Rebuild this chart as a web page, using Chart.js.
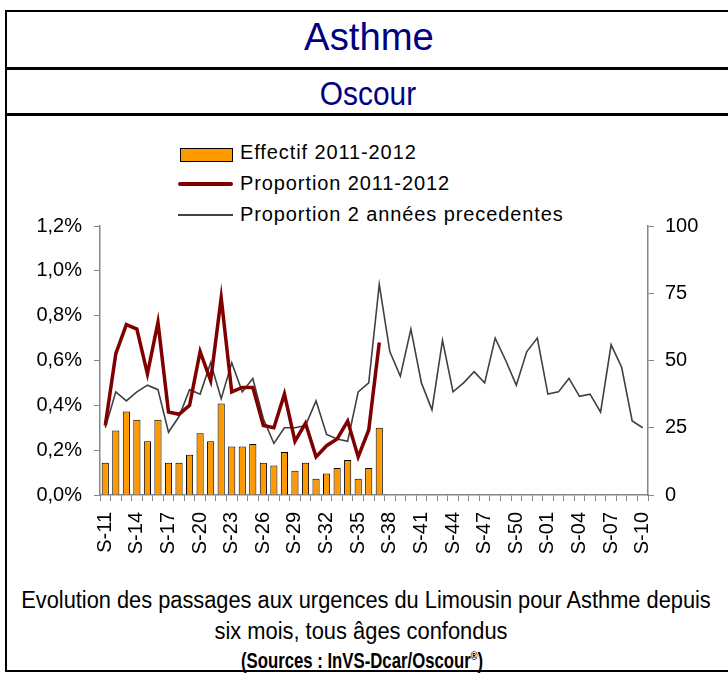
<!DOCTYPE html>
<html>
<head>
<meta charset="utf-8">
<script src="https://cdn.jsdelivr.net/npm/chart.js@4.4.1/dist/chart.umd.min.js"></script>
<style>
  body { margin: 0; background: #fff; width: 728px; height: 675px; overflow: hidden; position: relative; }
  .box { position: absolute; left: 5px; top: 10px; width: 730px; height: 662px; border: 2px solid #000; box-sizing: border-box; }
  .sep { position: absolute; left: 5px; width: 730px; height: 0; border-top: 3px solid #000; }
  .txt { position: absolute; white-space: nowrap; line-height: 1; font-family: "Liberation Sans", Arial, sans-serif; transform-origin: 0 0; }
  .legend { position: absolute; left: 178px; top: 139px; font-family: "Liberation Sans", Arial, sans-serif; font-size: 20px; letter-spacing: 0.9px; color: #000; }
  .legend div { height: 31px; position: relative; }
  .legend span.lab { position: absolute; left: 62px; top: 2px; white-space: nowrap; }
  .sw { position: absolute; left: 2px; top: 9px; width: 53px; height: 14px; background: #FF9900; border: 1px solid #000; box-sizing: border-box; }
  .ln { position: absolute; left: 0; width: 55px; }
  canvas { position: absolute; left: 0; top: 202px; }
</style>
</head>
<body>
<div class="box"></div>
<div class="txt" data-w="130" style="left:369px;top:18px;font-size:38px;color:#000080;">Asthme</div>
<div class="sep" style="top:67px;"></div>
<div class="txt" data-w="96" style="left:368px;top:77px;font-size:33px;color:#000080;">Oscour</div>
<div class="sep" style="top:113px;"></div>
<div class="legend">
  <div><span class="sw"></span><span class="lab">Effectif 2011-2012</span></div>
  <div><span class="ln" style="top:12px;border-top:4px solid #800000;border-radius:2px;"></span><span class="lab">Proportion 2011-2012</span></div>
  <div><span class="ln" style="top:13px;border-top:2px solid #404040;"></span><span class="lab">Proportion 2 années precedentes</span></div>
</div>
<canvas id="c" width="728" height="373"></canvas>
<div class="txt" data-w="690" style="left:366px;top:589px;font-size:23px;color:#000;">Evolution des passages aux urgences du Limousin pour Asthme depuis</div>
<div class="txt" data-w="293" style="left:361px;top:620px;font-size:23px;color:#000;">six mois, tous âges confondus</div>
<div class="txt" data-w="242" style="left:362px;top:650px;font-size:22px;font-weight:bold;color:#000;">(Sources : InVS-Dcar/Oscour<sup style="font-size:12px;line-height:0;">®</sup>)</div>
<script>
const weeks = ["S-11","S-12","S-13","S-14","S-15","S-16","S-17","S-18","S-19","S-20","S-21","S-22","S-23","S-24","S-25","S-26","S-27","S-28","S-29","S-30","S-31","S-32","S-33","S-34","S-35","S-36","S-37","S-38","S-39","S-40","S-41","S-42","S-43","S-44","S-45","S-46","S-47","S-48","S-49","S-50","S-51","S-52","S-01","S-02","S-03","S-04","S-05","S-06","S-07","S-08","S-09","S-10"];

// effectif (axe droit)
const effectif = [12,24,31,28,20,28,12,12,15,23,20,34,18,18,19,12,11,16,9,12,6,8,10,13,6,10,25];

// proportion en % (axe gauche)
const prop2012 = [0.31,0.63,0.76,0.74,0.54,0.77,0.37,0.36,0.40,0.64,0.51,0.88,0.46,0.48,0.48,0.31,0.30,0.45,0.24,0.32,0.17,0.22,0.25,0.33,0.17,0.29,0.68];

const propPrev = [0.30,0.46,0.42,0.46,0.49,0.47,0.28,0.35,0.47,0.45,0.59,0.43,0.59,0.46,0.52,0.34,0.23,0.30,0.30,0.31,0.42,0.27,0.25,0.24,0.46,0.50,0.94,0.64,0.53,0.74,0.50,0.38,0.69,0.46,0.50,0.55,0.50,0.70,0.60,0.49,0.64,0.70,0.45,0.46,0.52,0.44,0.45,0.37,0.67,0.57,0.33,0.30];

// squeeze the texts to the widths they have in the picture
document.querySelectorAll(".txt").forEach((el) => {
  const k = +el.dataset.w / el.offsetWidth;
  el.style.transform = "scaleX(" + k + ") translateX(-50%)";
});

const axisColor = "#868686";
const tickFont = { family: "Liberation Sans, Arial, sans-serif", size: 20 };

new Chart(document.getElementById("c"), {
  type: "bar",
  data: {
    labels: weeks,
    datasets: [
      {
        type: "line",
        label: "Proportion 2011-2012",
        data: prop2012,
        yAxisID: "y",
        borderColor: "#800000",
        borderWidth: 3.5,
        pointRadius: 0,
        tension: 0,
        order: 0,
      },
      {
        type: "line",
        label: "Proportion 2 années precedentes",
        data: propPrev,
        yAxisID: "y",
        borderColor: "#404040",
        borderWidth: 1.6,
        pointRadius: 0,
        tension: 0,
        order: 1,
      },
      {
        label: "Effectif 2011-2012",
        data: effectif,
        yAxisID: "y1",
        backgroundColor: "#FF9900",
        borderColor: "#000",
        borderWidth: 1,
        barPercentage: 0.68,
        categoryPercentage: 1,
        order: 2,
      },
    ],
  },
  options: {
    responsive: false,
    animation: false,
    layout: { padding: { top: 3, left: 0, right: 0, bottom: 0 } },
    plugins: { legend: { display: false }, tooltip: { enabled: false } },
    scales: {
      x: {
        offset: true,
        grid: { drawOnChartArea: false, drawTicks: true, tickLength: 6, color: axisColor, offset: true },
        border: { color: axisColor, width: 1.5 },
        ticks: {
          autoSkip: false,
          maxRotation: 90,
          minRotation: 90,
          padding: 11,
          color: "#000",
          font: tickFont,
          callback: (v, i) => (i % 3 === 0 ? weeks[i] : ""),
        },
        afterFit: (s) => { s.height = 80; },
      },
      y: {
        position: "left",
        min: 0,
        max: 1.2,
        grid: { drawOnChartArea: false, drawTicks: true, tickLength: 6, color: axisColor },
        border: { color: axisColor, width: 1.5 },
        ticks: {
          stepSize: 0.2,
          padding: 12,
          color: "#000",
          font: tickFont,
          callback: (v) => v.toFixed(1).replace(".", ",") + "%",
        },
        afterFit: (s) => { s.width = 100; },
      },
      y1: {
        position: "right",
        min: 0,
        max: 100,
        grid: { drawOnChartArea: false, drawTicks: true, tickLength: 6, color: axisColor },
        border: { color: axisColor, width: 1.5 },
        ticks: { stepSize: 25, padding: 11, color: "#000", font: tickFont },
        afterFit: (s) => { s.width = 80; },
      },
    },
  },
});
</script>
</body>
</html>
